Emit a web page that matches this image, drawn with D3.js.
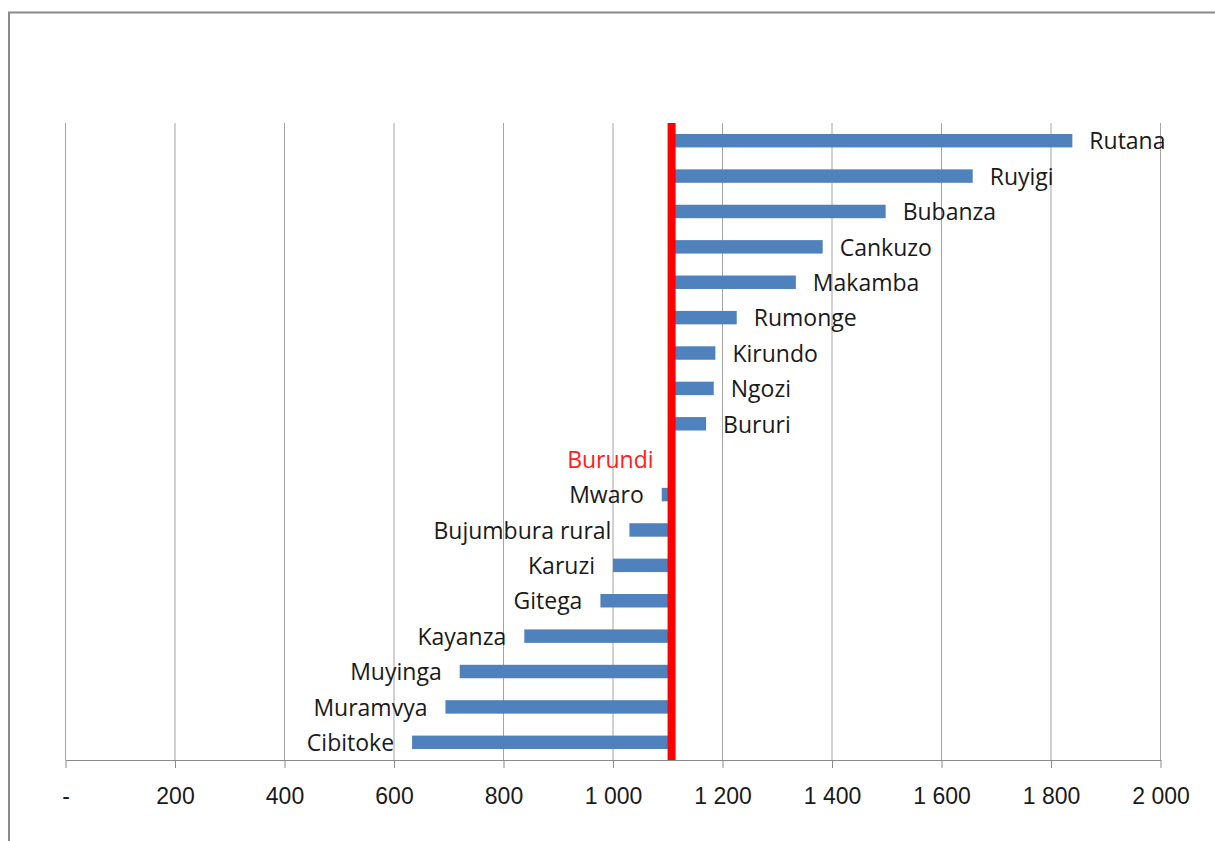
<!doctype html>
<html lang="fr">
<head>
    <meta charset="UTF-8">
    <title>Burundi - provinces</title>
    <script src="https://d3js.org/d3.v7.min.js"></script>
    <style>
        body { margin: 0; background: #fff; }
        svg { display: block; }
    </style>
</head>
<body>
<script>
    // provinces, top to bottom (Burundi = national reference row)
    var provinces = ['Rutana', 'Ruyigi', 'Bubanza', 'Cankuzo', 'Makamba', 'Rumonge', 'Kirundo', 'Ngozi', 'Bururi',
        'Burundi', 'Mwaro', 'Bujumbura rural', 'Karuzi', 'Gitega', 'Kayanza', 'Muyinga', 'Muramvya', 'Cibitoke'];
    var values = [1839, 1657, 1498, 1383, 1334, 1226, 1187, 1184, 1170,
        1107, 1089, 1030, 1000, 977, 838, 720, 694, 633];
    var national = 1107;
    var ticks = [0, 200, 400, 600, 800, 1000, 1200, 1400, 1600, 1800, 2000];

    var width = 1215, height = 841;
    var plotLeft = 65.5, plotRight = 1160.5, plotTop = 123, plotBottom = 760;

    var svg = d3.select('body').append('svg')
        .attr('width', width)
        .attr('height', height);

    // outer frame
    svg.append('rect')
        .attr('x', 9).attr('y', 12.5)
        .attr('width', width + 20).attr('height', height + 20)
        .attr('fill', 'none')
        .attr('stroke', '#8a8a8a')
        .attr('stroke-width', 2);

    var x = d3.scaleLinear().domain([0, 2000]).range([plotLeft, plotRight]);
    var y = d3.scaleBand().domain(provinces).range([plotTop, plotBottom])
        .paddingInner(0.62).paddingOuter(0.31);

    var fmt = function(d) {
        if (d === 0) return '-';
        return d3.format(',')(d).replace(/,/g, '\u00a0');
    };

    // gridlines
    svg.append('g').selectAll('line')
        .data(ticks)
        .enter().append('line')
        .attr('x1', function(d) { return x(d); })
        .attr('x2', function(d) { return x(d); })
        .attr('y1', plotTop)
        .attr('y2', plotBottom)
        .attr('stroke', '#a3a3a3')
        .attr('stroke-width', 1);

    // x axis
    var axis = svg.append('g')
        .attr('transform', 'translate(0,' + plotBottom + ')')
        .call(d3.axisBottom(x).tickValues(ticks).tickFormat(fmt).tickSize(8).tickSizeOuter(0));
    axis.select('.domain').attr('stroke', '#8a8a8a');
    axis.selectAll('.tick line').attr('stroke', '#8a8a8a');
    axis.selectAll('.tick text')
        .attr('y', 44)
        .attr('dy', 0)
        .attr('fill', '#1a1a1a')
        .style('font-family', '"Liberation Sans", Arial, sans-serif')
        .style('font-size', '23px');

    var rows = provinces.map(function(p, i) { return {name: p, value: values[i]}; });

    // bars from national value
    svg.append('g').selectAll('rect')
        .data(rows.filter(function(d) { return d.name !== 'Burundi'; }))
        .enter().append('rect')
        .attr('x', function(d) { return x(Math.min(d.value, national)); })
        .attr('width', function(d) { return Math.abs(x(d.value) - x(national)); })
        .attr('y', function(d) { return y(d.name); })
        .attr('height', y.bandwidth())
        .attr('fill', '#4f81bd');

    // red national line
    svg.append('line')
        .attr('x1', x(national)).attr('x2', x(national))
        .attr('y1', plotTop).attr('y2', plotBottom)
        .attr('stroke', '#ff0000')
        .attr('stroke-width', 8);

    // labels
    svg.append('g').selectAll('text')
        .data(rows)
        .enter().append('text')
        .attr('x', function(d) {
            return d.value > national ? x(d.value) + 17 : x(d.value) - 18;
        })
        .attr('y', function(d) { return y(d.name) + y.bandwidth() / 2; })
        .attr('dy', '0.38em')
        .attr('text-anchor', function(d) { return d.value > national ? 'start' : 'end'; })
        .attr('fill', function(d) { return d.name === 'Burundi' ? '#ff2020' : '#1a1a1a'; })
        .style('font-family', '"Open Sans", sans-serif')
        .style('font-size', '23px')
        .text(function(d) { return d.name; });
</script>
</body>
</html>
